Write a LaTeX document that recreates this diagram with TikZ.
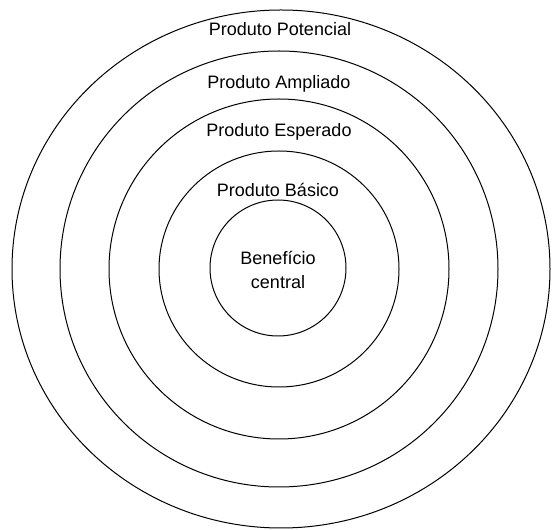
\documentclass[tikz,border=0pt]{standalone}
\usepackage{fontspec}
\setmainfont{Liberation Sans}
\usetikzlibrary{shapes.geometric}
\begin{document}
\begin{tikzpicture}[x=1pt,y=1pt,
  ring/.style={draw=black,line width=1pt,ellipse,inner sep=0pt,fill=none},
  lbl/.style={font=\fontsize{18}{23.5}\selectfont,anchor=base,inner sep=0pt,align=center}]
\useasboundingbox (0,0) rectangle (552,530);
\coordinate (c) at (279,261);
\node[ring,minimum width=538,minimum height=518] (potencial) at (281,261) {};
\node[ring,minimum width=438,minimum height=436] (ampliado) at (c) {};
\node[ring,minimum width=340,minimum height=340] (esperado) at (c) {};
\node[ring,minimum width=240,minimum height=236] (basico) at (c) {};
\node[ring,minimum width=136,minimum height=136] (beneficio) at (278,262) {};
\node[lbl] (tpot) at (280,494) {Produto Potencial};
\node[lbl] (tamp) at (279,441) {Produto Ampliado};
\node[lbl] (tesp) at (279,393) {Produto Esperado};
\node[lbl] (tbas) at (278,333) {Produto Básico};
\node[lbl] (tben) at (278,265) {Benefício};
\node[lbl] (tcen) at (278,241) {central};
\end{tikzpicture}
\end{document}
